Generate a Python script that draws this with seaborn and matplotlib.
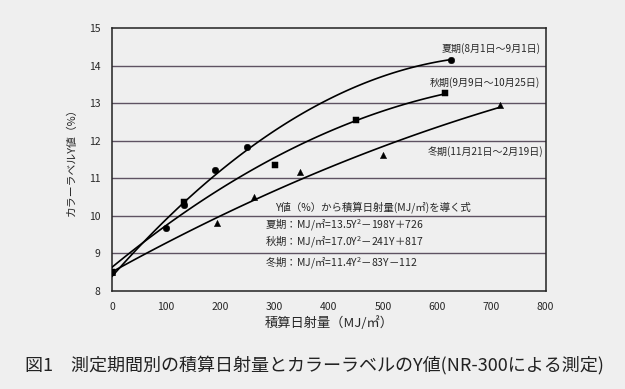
import numpy as np
import pandas as pd
import matplotlib.pyplot as plt
import seaborn as sns

# data
summer_x = [0, 100, 133, 190, 250, 625]
summer_y = [8.5, 9.67, 10.28, 11.22, 11.82, 14.15]
autumn_x = [0, 133, 300, 450, 615]
autumn_y = [8.5, 10.37, 11.34, 12.55, 13.28]
winter_x = [0, 194, 262, 347, 500, 716]
winter_y = [8.5, 9.82, 10.51, 11.16, 11.63, 12.95]

labels = ['夏期(8月1日～9月1日)', '秋期(9月9日～10月25日)', '冬期(11月21日～2月19日)']
formula_title = 'Y値（%）から積算日射量(MJ/㎡)を導く式'
formulas = ['夏期：MJ/㎡=13.5Y$^2$－198Y＋726',
            '秋期：MJ/㎡=17.0Y$^2$－241Y＋817',
            '冬期：MJ/㎡=11.4Y$^2$－83Y－112']

sns.set_style('white')
plt.rcParams['font.family'] = ['Noto Sans CJK JP', 'DejaVu Sans']
plt.rcParams['mathtext.fontset'] = 'custom'
plt.rcParams['mathtext.rm'] = 'Noto Sans CJK JP'
bg = '#efefef'
grid_col = '#5e5262'

fig = plt.figure(figsize=(6.25, 3.89), dpi=100, facecolor=bg)
ax = fig.add_axes([0.179, 0.2525, 0.694, 0.675], facecolor=bg)

# horizontal grid lines
for v in range(9, 15):
    ax.axhline(v, color=grid_col, lw=1.0, zorder=1)

# fitted curves (quadratic) + points
series = [(summer_x, summer_y, 'o', 22), (autumn_x, autumn_y, 's', 18), (winter_x, winter_y, '^', 20)]
for xs, ys, m, sz in series:
    sns.regplot(x=xs, y=ys, order=2, ci=None, scatter=False, color='black',
                line_kws={'lw': 1.2, 'zorder': 3}, ax=ax)
    sns.scatterplot(x=xs, y=ys, marker=m, color='black', s=sz, edgecolor='black', ax=ax, zorder=4)

ax.set_xlim(0, 800)
ax.set_ylim(8, 15)
ax.set_xticks(range(0, 801, 100))
ax.set_yticks(range(8, 16))
ax.tick_params(axis='both', labelsize=7.5, length=3, width=0.8, direction='in', pad=8)
for s in ax.spines.values():
    s.set_color('#222222')
    s.set_linewidth(1.1)

ax.set_xlabel('積算日射量（MJ/㎡）', fontsize=9.5, labelpad=3)
ax.set_ylabel('カラーラベルY値（%）', fontsize=7.8, labelpad=9)

# series labels
ax.text(790, 14.47, labels[0], fontsize=7.2, ha='right', va='center')
ax.text(790, 13.54, labels[1], fontsize=7.2, ha='right', va='center')
ax.text(796, 11.70, labels[2], fontsize=7.2, ha='right', va='center')

# formula text
ax.text(301, 10.23, formula_title, fontsize=7.5, va='center')
for yv, f in zip([9.75, 9.30, 8.74], formulas):
    ax.text(283, yv, f, fontsize=7.5, va='center')

fig.text(0.04, 0.062, '図1　測定期間別の積算日射量とカラーラベルのY値(NR-300による測定)',
         fontsize=13, color='#222222', va='center')

fig.savefig('out.png', dpi=100, facecolor=bg)
